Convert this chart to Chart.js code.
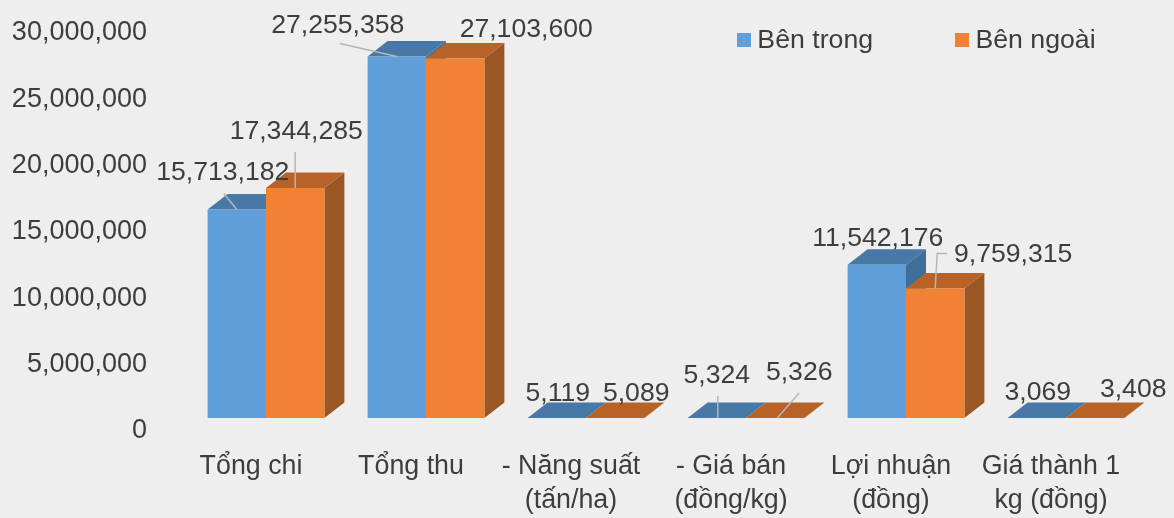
<!DOCTYPE html>
<html lang="vi">
<head>
<meta charset="utf-8">
<style>
html,body{margin:0;padding:0;background:#eeeeee;}
canvas{display:block;filter:blur(0.6px);}
</style>
<script src="https://cdn.jsdelivr.net/npm/chart.js@4"></script>
</head>
<body>
<canvas id="c" width="1174" height="518"></canvas>
<script>
const categories = [['Tổng chi'], ['Tổng thu'], ['- Năng suất', '(tấn/ha)'], ['- Giá bán', '(đồng/kg)'], ['Lợi nhuận', '(đồng)'], ['Giá thành 1', 'kg (đồng)']];
const insideValues = [15713182, 27255358, 5119, 5324, 11542176, 3069];
const outsideValues = [17344285, 27103600, 5089, 5326, 9759315, 3408];
const seriesNames = ['Bên trong', 'Bên ngoài'];
const yTicks = [0, 5000000, 10000000, 15000000, 20000000, 25000000, 30000000];

const FONT = '"Liberation Sans", Arial, sans-serif';
const TEXT = '#3d3d3d';
const BG = '#eeeeee';
const palette = [
  {front: '#5f9ed9', top: '#4879a6', side: '#3f6f99'},
  {front: '#f18133', top: '#b96228', side: '#9b5723'}
];
const DEPTH_X = 20, DEPTH_Y = 15.5;

const labelOffsets = [
  [[-14,-37],[-59,-31],[1,-24],[0,-42],[1,-26],[1,-25]],
  [[1,-56],[71,-29],[21,-24],[24,-45],[78,-34],[38,-28]]
];
const leaders = [
  {0: [[-13,-16],[0,0]], 1: [[-57,-13],[0,0]], 3: [[1,-22],[1,0]]},
  {0: [[0,-36],[0,0]], 3: [[24,-25],[2,0]], 4: [[12,-35],[2,-35],[0,0]]}
];

function poly(ctx, pts, fill) {
  ctx.beginPath();
  pts.forEach((p, i) => i ? ctx.lineTo(p[0], p[1]) : ctx.moveTo(p[0], p[1]));
  ctx.closePath();
  ctx.fillStyle = fill;
  ctx.fill();
}

function swatch(color) {
  const s = document.createElement('canvas');
  s.width = 14; s.height = 14;
  const g = s.getContext('2d');
  g.fillStyle = color;
  g.fillRect(0, 0, 14, 14);
  return s;
}

const LEGEND_GAP = 88;

const bars3d = {
  id: 'bars3d',
  beforeDraw(chart) {
    const {ctx, width, height} = chart;
    ctx.save();
    ctx.fillStyle = BG;
    ctx.fillRect(0, 0, width, height);
    ctx.restore();
  },
  afterLayout(chart) {
    const l = chart.legend;
    l.left = 743 - LEGEND_GAP;
    l.right = chart.width + 300;
    l.top = 27 - LEGEND_GAP;
    l.bottom = 70;
  },
  beforeDatasetsDraw(chart) {
    const ctx = chart.ctx;
    ctx.save();
    [0, 1].forEach(d => {
      const c = palette[d];
      chart.getDatasetMeta(d).data.forEach(b => {
        const p = b.getProps(['x', 'y', 'base', 'width'], true);
        const l = p.x - p.width / 2, r = p.x + p.width / 2;
        poly(ctx, [[r, p.y], [r + DEPTH_X, p.y - DEPTH_Y], [r + DEPTH_X, p.base - DEPTH_Y], [r, p.base]], c.side);
        poly(ctx, [[l, p.y], [l + DEPTH_X, p.y - DEPTH_Y], [r + DEPTH_X, p.y - DEPTH_Y], [r, p.y]], c.top);
      });
    });
    ctx.restore();
  },
  afterDatasetsDraw(chart) {
    const ctx = chart.ctx;
    ctx.save();
    [0, 1].forEach(d => {
      chart.getDatasetMeta(d).data.forEach((b, i) => {
        const p = b.getProps(['x', 'y'], true);
        const lead = leaders[d][i];
        if (lead) {
          ctx.beginPath();
          lead.forEach((o, k) => k ? ctx.lineTo(p.x + o[0], p.y + o[1]) : ctx.moveTo(p.x + o[0], p.y + o[1]));
          ctx.strokeStyle = '#b5b5b5';
          ctx.lineWidth = 1.5;
          ctx.stroke();
        }
      });
    });
    ctx.font = '26.6px ' + FONT;
    ctx.textAlign = 'center';
    ctx.textBaseline = 'middle';
    ctx.fillStyle = TEXT;
    [0, 1].forEach(d => {
      const values = chart.data.datasets[d].data;
      chart.getDatasetMeta(d).data.forEach((b, i) => {
        const p = b.getProps(['x', 'y'], true);
        const o = labelOffsets[d][i];
        ctx.fillText(values[i].toLocaleString('en-US'), p.x + o[0], p.y + o[1]);
      });
    });
    ctx.restore();
  }
};

new Chart(document.getElementById('c'), {
  type: 'bar',
  data: {
    labels: categories,
    datasets: [
      {label: seriesNames[0], data: insideValues, backgroundColor: palette[0].front, borderWidth: 0},
      {label: seriesNames[1], data: outsideValues, backgroundColor: palette[1].front, borderWidth: 0}
    ]
  },
  plugins: [bars3d],
  options: {
    responsive: false,
    animation: false,
    layout: {padding: {top: 19, right: 28, bottom: 0, left: 0}},
    datasets: {bar: {categoryPercentage: 0.73, barPercentage: 1}},
    plugins: {
      tooltip: {enabled: false},
      title: {display: false},
      legend: {
        position: 'top',
        align: 'start',
        maxHeight: 1,
        labels: {
          usePointStyle: true,
          pointStyleWidth: 1,
          padding: LEGEND_GAP,
          color: TEXT,
          font: {family: FONT, size: 26.7},
          generateLabels(chart) {
            return Chart.defaults.plugins.legend.labels.generateLabels(chart).map((it, i) => {
              it.pointStyle = swatch(palette[i].front);
              return it;
            });
          }
        }
      }
    },
    scales: {
      x: {
        grid: {display: false, drawTicks: false},
        border: {display: false},
        afterFit(s) { s.height = 100; },
        ticks: {
          color: TEXT,
          font: {family: FONT, size: 26.8, lineHeight: 1.25},
          padding: 32,
          labelOffset: -15,
          maxRotation: 0,
          minRotation: 0,
          autoSkip: false
        }
      },
      y: {
        min: 0,
        max: 30000000,
        grid: {display: false, drawTicks: false},
        border: {display: false},
        afterFit(s) { s.width = 186; s.paddingTop = 0; s.paddingBottom = 0; },
        afterBuildTicks(s) { s.ticks = yTicks.map(v => ({value: v})); },
        ticks: {
          color: TEXT,
          font: {family: FONT, size: 27},
          padding: 39,
          labelOffset: 13,
          callback: v => v.toLocaleString('en-US')
        }
      }
    }
  }
});
</script>
</body>
</html>
